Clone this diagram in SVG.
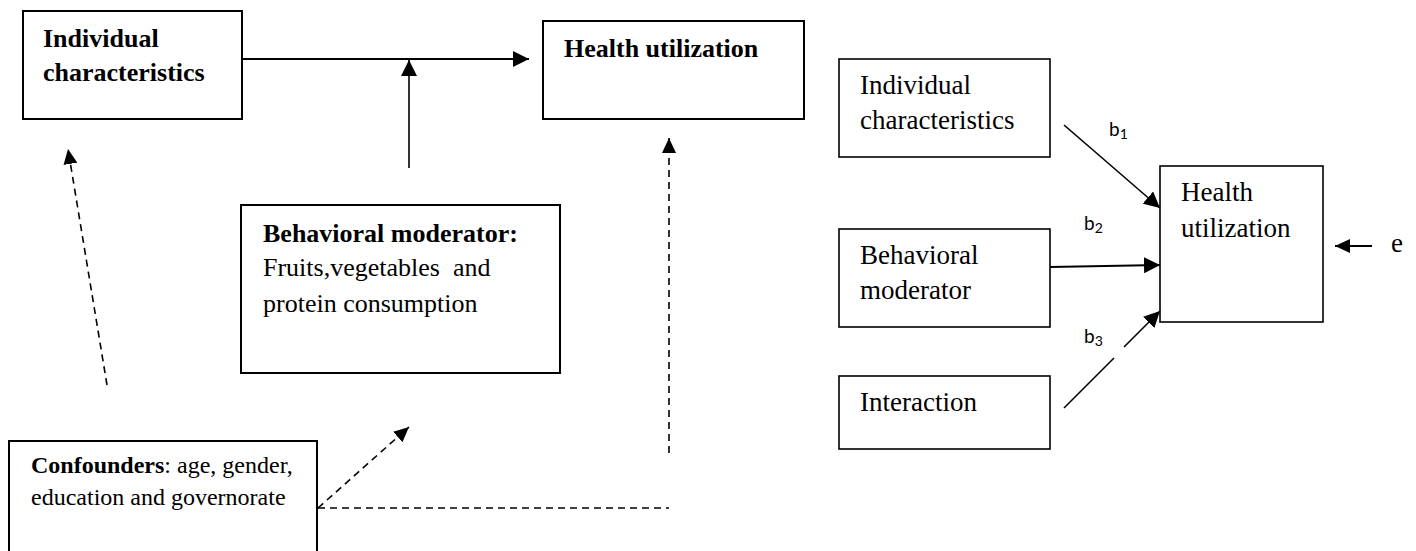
<svg xmlns="http://www.w3.org/2000/svg" width="1416" height="551" viewBox="0 0 1416 551">
  <style>
    .box { fill: #fff; stroke: #000; stroke-width: 2; }
    .box2 { fill: #fff; stroke: #000; stroke-width: 1.6; }
    .tb { font-family: "Liberation Serif", "Times New Roman", serif; font-weight: bold; font-size: 26px; fill: #000; }
    .tr { font-family: "Liberation Serif", "Times New Roman", serif; font-size: 26px; fill: #000; white-space: pre; }
    .tr27 { font-family: "Liberation Serif", "Times New Roman", serif; font-size: 27px; fill: #000; }
    .tc { font-family: "Liberation Serif", "Times New Roman", serif; font-size: 24px; fill: #000; }
    .lab { font-family: Lato, "Open Sans", "Liberation Sans", sans-serif; font-size: 19px; fill: #000; }
    .solid { fill: none; stroke: #000; stroke-width: 2; }
    .thin { fill: none; stroke: #000; stroke-width: 1.6; }
    .dash { fill: none; stroke: #000; stroke-width: 1.6; stroke-dasharray: 7 5; }
  </style>
  <defs>
    <marker id="ah" viewBox="0 0 16 16" refX="16" refY="8" markerWidth="16" markerHeight="16" markerUnits="userSpaceOnUse" orient="auto">
      <path d="M0,0 L16,8 L0,16 z" fill="#000"/>
    </marker>
    <marker id="ahs" viewBox="0 0 15 14" refX="15" refY="7" markerWidth="15" markerHeight="14" markerUnits="userSpaceOnUse" orient="auto">
      <path d="M0,0 L15,7 L0,14 z" fill="#000"/>
    </marker>
  </defs>

  <!-- Left model -->
  <g id="ind-left">
    <rect class="box" x="23" y="11" width="219" height="108"/>
    <text class="tb" x="43" y="47">Individual</text>
    <text class="tb" x="43" y="81">characteristics</text>
  </g>
  <g id="health-left">
    <rect class="box" x="543" y="21" width="261" height="98"/>
    <text class="tb" x="564" y="57">Health utilization</text>
  </g>
  <g id="moderator-left">
    <rect class="box" x="241" y="205" width="319" height="168"/>
    <text class="tb" x="263" y="242">Behavioral moderator:</text>
    <text class="tr" x="263" y="276">Fruits,vegetables  and</text>
    <text class="tr" x="263" y="312">protein consumption</text>
  </g>
  <g id="confounders">
    <path class="box" d="M9,560 V441 H317 V560"/>
    <text class="tc" x="31" y="473"><tspan font-weight="bold">Confounders</tspan>: age, gender,</text>
    <text class="tc" x="31" y="505">education and governorate</text>
  </g>

  <!-- Right model -->
  <g id="ind-right">
    <rect class="box2" x="839" y="59" width="211" height="98"/>
    <text class="tr27" x="860" y="94">Individual</text>
    <text class="tr27" x="860" y="129">characteristics</text>
  </g>
  <g id="moderator-right">
    <rect class="box2" x="839" y="229" width="211" height="98"/>
    <text class="tr27" x="860" y="264">Behavioral</text>
    <text class="tr27" x="860" y="299">moderator</text>
  </g>
  <g id="interaction">
    <rect class="box2" x="839" y="376" width="211" height="73"/>
    <text class="tr27" x="860" y="411">Interaction</text>
  </g>
  <g id="health-right">
    <rect class="box2" x="1160" y="166" width="163" height="156"/>
    <text class="tr27" x="1181" y="201">Health</text>
    <text class="tr27" x="1181" y="237">utilization</text>
  </g>
  <g id="error-term">
    <text class="tr27" x="1391" y="252">e</text>
  </g>

  <g id="connectors">
    <line class="solid" x1="242" y1="59" x2="529" y2="59" marker-end="url(#ah)"/>
    <line class="thin" x1="409" y1="168" x2="409" y2="60" marker-end="url(#ah)"/>
    <line class="dash" x1="669" y1="453" x2="669" y2="138" marker-end="url(#ahs)"/>
    <line class="dash" x1="107" y1="385" x2="68" y2="149" marker-end="url(#ahs)"/>
    <line class="dash" x1="318" y1="508" x2="409" y2="427" marker-end="url(#ahs)"/>
    <line class="dash" x1="318" y1="508" x2="669" y2="508"/>

    <line class="thin" x1="1064" y1="125" x2="1160" y2="208" marker-end="url(#ah)"/>
    <line class="solid" x1="1050" y1="267" x2="1160" y2="265" marker-end="url(#ah)"/>
    <line class="thin" x1="1064" y1="408" x2="1114" y2="358"/>
    <line class="thin" x1="1124" y1="347" x2="1160" y2="311" marker-end="url(#ah)"/>
    <line class="solid" x1="1372" y1="246" x2="1335" y2="246" marker-end="url(#ahs)"/>

    <text class="lab" x="1109" y="136">b<tspan font-size="14" dy="3">1</tspan></text>
    <text class="lab" x="1084" y="230">b<tspan font-size="14" dy="3">2</tspan></text>
    <text class="lab" x="1084" y="343">b<tspan font-size="14" dy="3">3</tspan></text>
  </g>
</svg>
